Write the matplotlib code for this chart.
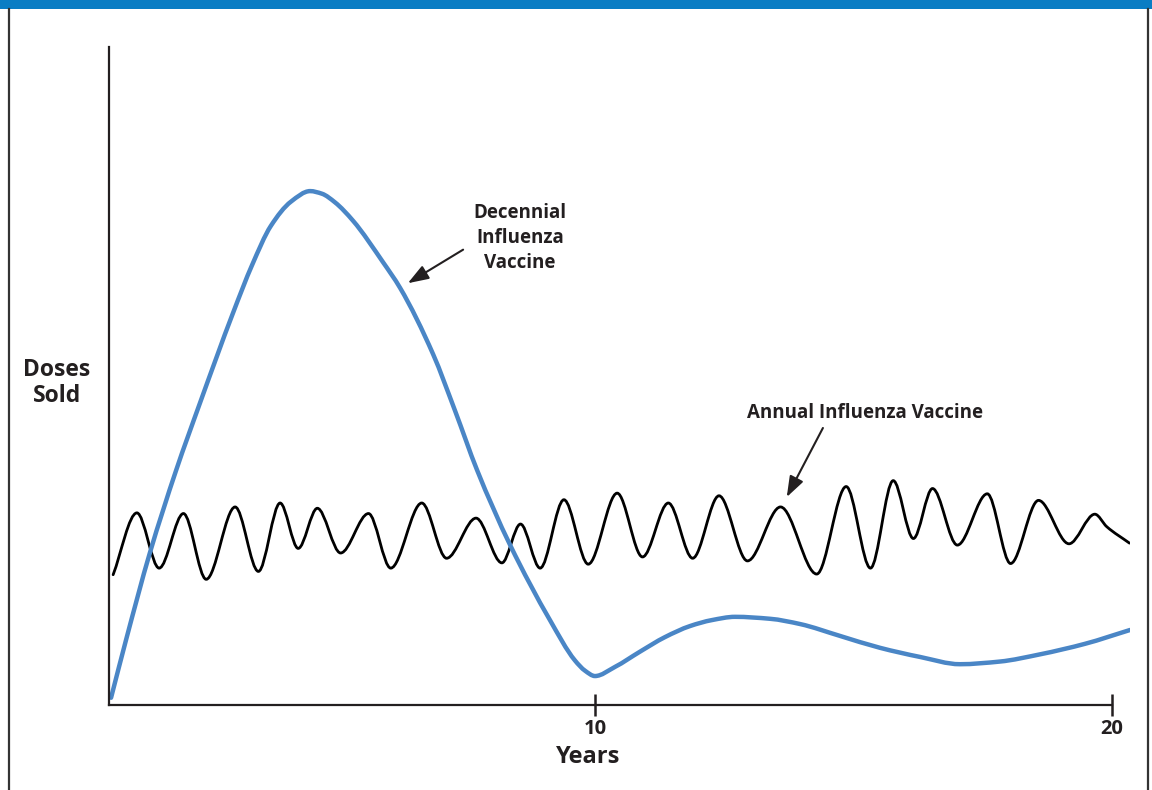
import matplotlib
matplotlib.use("Agg")
import matplotlib.pyplot as plt
from matplotlib.path import Path
from matplotlib.patches import PathPatch, Rectangle
from matplotlib.lines import Line2D
import numpy as np

plt.rcParams['font.family'] = ['Open Sans', 'DejaVu Sans']

# decennial vaccine (years, relative doses)
decennial_years = [0.64, 0.93, 1.39, 1.90, 2.36, 3.00, 3.37, 3.73, 4.12, 4.49, 4.72,
                   4.97, 5.32, 5.90, 6.23, 6.87, 7.29, 7.72, 8.36, 9.13, 9.61, 9.81,
                   10.0, 10.39, 10.87, 11.35, 11.84, 12.26, 12.71, 13.39, 13.97, 14.74,
                   15.51, 16.29, 17.06, 17.83, 18.61, 19.48, 20.35]
decennial_doses = [1.1, 9.9, 23.1, 35.7, 45.9, 59.6, 66.9, 72.8, 76.5, 78.1, 77.7,
                   76.4, 73.6, 67.3, 63.4, 53.3, 44.8, 35.7, 24.3, 12.9, 6.8, 5.2,
                   4.4, 5.8, 8.1, 10.3, 12.0, 12.9, 13.4, 13.1, 12.3, 10.5,
                   8.7, 7.3, 6.2, 6.6, 7.7, 9.3, 11.4]

# annual vaccine, peaks and troughs
annual_years = [0.68, 1.14, 1.57, 2.04, 2.48, 3.04, 3.49, 3.91, 4.26, 4.63, 5.08,
                5.62, 6.05, 6.65, 7.13, 7.70, 8.20, 8.56, 8.94, 9.40, 9.87, 10.43,
                10.92, 11.42, 11.89, 12.40, 12.95, 13.59, 14.29, 14.86, 15.33, 15.77,
                16.16, 16.53, 17.01, 17.59, 18.04, 18.58, 19.17, 19.67, 19.90, 20.34]
annual_doses = [19.8, 29.2, 20.8, 29.1, 19.1, 30.1, 20.3, 30.7, 23.8, 29.9, 23.1,
                29.1, 20.8, 30.7, 22.3, 28.4, 21.6, 27.5, 20.8, 31.2, 21.4, 32.2,
                22.5, 30.7, 22.3, 31.8, 21.9, 30.1, 19.9, 33.2, 20.8, 34.1,
                25.3, 32.9, 24.3, 32.1, 21.5, 31.1, 24.5, 29.0, 27.1, 24.6]

tick_years = [10, 20]
tick_labels = ['10', '20']

X_MIN, X_MAX = 0.6, 20.35
BLUE = '#4A86C6'
INK = '#231F20'


def smooth_path(xs, ys):
    # shape preserving cubic segments (pchip style tangents)
    xs = np.asarray(xs, float)
    ys = np.asarray(ys, float)
    n = len(xs)
    h = np.diff(xs)
    d = np.diff(ys) / h
    m = np.zeros(n)
    m[0], m[-1] = d[0], d[-1]
    for i in range(1, n - 1):
        if d[i - 1] * d[i] <= 0:
            m[i] = 0.0
        else:
            w1 = 2 * h[i] + h[i - 1]
            w2 = h[i] + 2 * h[i - 1]
            m[i] = (w1 + w2) / (w1 / d[i - 1] + w2 / d[i])
    verts = [(xs[0], ys[0])]
    codes = [Path.MOVETO]
    for i in range(n - 1):
        verts += [(xs[i] + h[i] / 3, ys[i] + m[i] * h[i] / 3),
                  (xs[i + 1] - h[i] / 3, ys[i + 1] - m[i + 1] * h[i] / 3),
                  (xs[i + 1], ys[i + 1])]
        codes += [Path.CURVE4] * 3
    return Path(verts, codes)


W, H = 1152, 790
fig = plt.figure(figsize=(W / 100, H / 100), dpi=100)


def fx(px):
    return px / W


def fy(py):
    return 1 - py / H


# blue band and frame
fig.patches.append(Rectangle((0, fy(9)), 1, 9 / H, transform=fig.transFigure,
                             facecolor='#0A7DC4', edgecolor='none'))
for px in (9, 1148):
    fig.lines.append(Line2D([fx(px), fx(px)], [0, fy(9)], transform=fig.transFigure,
                            color='#333333', lw=1.6))

ax = fig.add_axes([fx(109), fy(705), fx(1130) - fx(109), (705 - 47) / H])
ax.set_xlim(X_MIN, X_MAX)
ax.set_ylim(0, 100)

ax.add_patch(PathPatch(smooth_path(annual_years, annual_doses), fill=False,
                       edgecolor='black', lw=2.0, capstyle='round', joinstyle='round'))
ax.add_patch(PathPatch(smooth_path(decennial_years, decennial_doses), fill=False,
                       edgecolor=BLUE, lw=3.2, capstyle='round', joinstyle='round'))

for s in ('top', 'right'):
    ax.spines[s].set_visible(False)
for s in ('left', 'bottom'):
    ax.spines[s].set_linewidth(1.6)
    ax.spines[s].set_color(INK)
ax.spines['bottom'].set_bounds(X_MIN, 20)

ax.set_yticks([])
ax.set_xticks(tick_years)
ax.set_xticklabels(tick_labels, fontsize=14.5, fontweight='bold', color=INK)
ax.tick_params(axis='x', direction='inout', length=16, width=1.8, color=INK, pad=2)

fig.text(fx(588), fy(757), 'Years', ha='center', va='center', fontsize=17,
         fontweight='bold', color=INK)
fig.text(fx(57), fy(383), 'Doses\nSold', ha='center', va='center', fontsize=16.5,
         fontweight='bold', color=INK, linespacing=1.1)

fig.text(fx(520), fy(238), 'Decennial\nInfluenza\nVaccine', ha='center', va='center',
         fontsize=13.5, fontweight='bold', color=INK, linespacing=1.3)
fig.text(fx(865), fy(413), 'Annual Influenza Vaccine', ha='center', va='center',
         fontsize=13.5, fontweight='bold', color=INK)

arrow = dict(arrowstyle='-|>,head_length=0.7,head_width=0.25', color=INK, lw=1.5,
             mutation_scale=18, shrinkA=0, shrinkB=0)
ax.annotate('', xy=(6.38, 64.1), xytext=(7.45, 69.2), arrowprops=arrow)
ax.annotate('', xy=(13.71, 31.6), xytext=(14.41, 42.1), arrowprops=arrow)

fig.savefig('out.png', dpi=100, facecolor='white')
